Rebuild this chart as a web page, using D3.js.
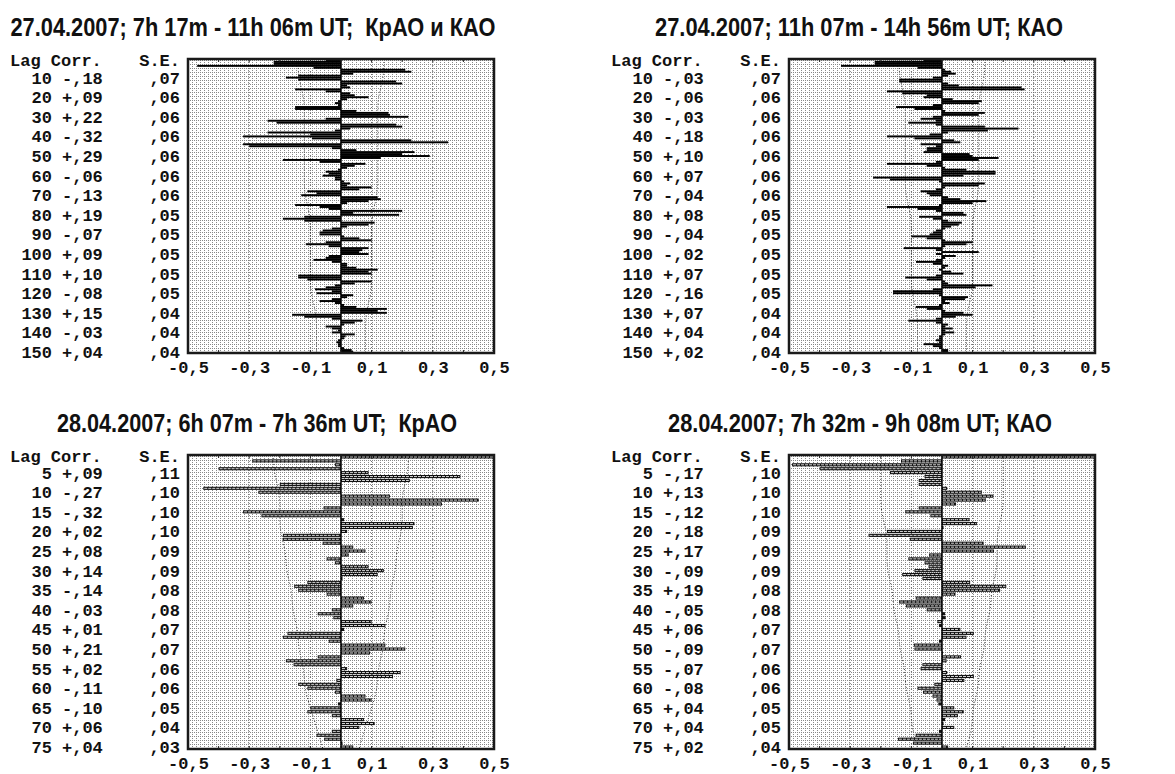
<!DOCTYPE html>
<html>
<head>
<meta charset="utf-8">
<script src="https://cdn.jsdelivr.net/npm/d3@7"></script>
<style>
  body { margin: 0; background: #fff; }
</style>
</head>
<body>
<script>
// ---- data ----
var titles = [
    "27.04.2007; 7h 17m - 11h 06m UT;  КрАО и КАО",
    "27.04.2007; 11h 07m - 14h 56m UT; КАО",
    "28.04.2007; 6h 07m - 7h 36m UT;  КрАО",
    "28.04.2007; 7h 32m - 9h 08m UT; КАО"
];

var lagsTop = [10, 20, 30, 40, 50, 60, 70, 80, 90, 100, 110, 120, 130, 140, 150];
var lagsBottom = [5, 10, 15, 20, 25, 30, 35, 40, 45, 50, 55, 60, 65, 70, 75];

var seTL = [.07, .06, .06, .06, .06, .06, .06, .05, .05, .05, .05, .05, .04, .04, .04];
var seTR = [.07, .06, .06, .06, .06, .06, .06, .05, .05, .05, .05, .05, .04, .04, .04];
var seBL = [.11, .10, .10, .10, .09, .09, .08, .08, .07, .07, .06, .06, .05, .04, .03];
var seBR = [.10, .10, .10, .09, .09, .09, .08, .08, .07, .07, .06, .06, .05, .05, .04];

// autocorrelation, lag 1..150
var corrTL = [
    -0.05, -0.22, -0.22, -0.47, -0.09, 0.21, 0.23, 0.04, -0.14, -0.18,
    -0.14, 0.18, 0.20, 0.02, 0.03, -0.15, -0.05, 0.03, 0.045, 0.09,
    0.02, -0.01, -0.02, -0.01, -0.15, -0.15, 0.05, 0.155, 0.16, 0.22,
    -0.05, -0.24, -0.21, 0.18, 0.20, 0.03, -0.02, -0.24, -0.10, -0.32,
    -0.095, 0.23, 0.35, -0.32, -0.30, -0.03, 0.05, 0.24, 0.20, 0.29,
    0.13, -0.19, -0.07, 0.08, 0.045, 0.02, -0.01, -0.05, -0.04, -0.06,
    -0.02, -0.02, 0.01, 0.03, 0.02, 0.10, 0.06, -0.11, -0.08, -0.13,
    0.12, 0.13, 0.09, 0.02, -0.15, -0.07, -0.04, 0.20, 0.04, 0.19,
    -0.12, -0.19, -0.12, 0.11, 0.09, 0.02, -0.03, -0.06, -0.07, -0.07,
    0.01, 0.06, 0.10, -0.05, -0.115, -0.04, 0.09, 0.07, 0.06, 0.09,
    -0.04, -0.05, -0.09, -0.03, 0.02, 0.02, 0.05, 0.12, 0.09, 0.10,
    -0.14, -0.14, -0.11, 0.10, 0.045, -0.02, -0.05, -0.085, -0.03, -0.08,
    0.04, 0.02, -0.03, -0.07, -0.02, 0.01, 0.05, 0.15, 0.12, 0.15,
    -0.16, -0.12, -0.03, 0.07, 0.045, 0.01, -0.05, -0.03, -0.01, -0.03,
    0.045, 0.015, 0.01, -0.01, -0.015, -0.01, -0.01, 0.01, 0.035, 0.04
];

var corrTR = [
    -0.06, -0.22, -0.22, -0.33, -0.08, 0.01, 0.03, 0.045, 0.02, -0.03,
    -0.14, -0.14, 0.02, 0.055, 0.26, 0.27, -0.18, -0.13, -0.05, -0.06,
    0.035, 0.13, 0.12, -0.03, -0.15, -0.09, 0.01, 0.14, 0.12, -0.03,
    -0.07, -0.02, -0.11, -0.02, 0.14, 0.25, 0.15, 0.02, -0.04, -0.18,
    -0.09, 0.04, 0.06, -0.07, -0.02, -0.05, -0.05, -0.06, 0.09, 0.10,
    0.185, 0.12, -0.02, -0.18, -0.05, 0.01, 0.08, 0.175, 0.175, 0.07,
    -0.225, -0.17, -0.01, 0.14, 0.12, 0.01, -0.02, -0.07, -0.05, -0.04,
    0.02, 0.06, 0.145, 0.10, -0.01, -0.18, -0.08, -0.02, 0.07, 0.08,
    -0.075, -0.03, 0.02, 0.065, 0.055, 0.03, 0.01, -0.02, -0.03, -0.04,
    -0.10, -0.05, 0.01, 0.10, 0.08, 0.01, -0.125, -0.02, 0.12, -0.02,
    0.045, 0.01, -0.02, -0.085, -0.03, 0.02, 0.01, -0.01, 0.03, 0.07,
    -0.02, -0.12, -0.05, 0.01, 0.02, 0.165, 0.11, -0.03, -0.16, -0.16,
    -0.01, 0.085, 0.075, 0.01, 0.025, -0.01, -0.085, -0.05, 0.01, 0.07,
    0.10, 0.045, -0.02, -0.11, -0.02, 0.02, 0.01, 0.035, 0.01, 0.04,
    0.01, -0.01, -0.01, -0.02, -0.01, -0.06, -0.03, -0.01, 0.02, 0.02
];

// autocorrelation, lag 1..75
var corrBL = [
    0.50, -0.29, -0.02, -0.40, 0.09, 0.39, 0.225, -0.20, -0.45, -0.27,
    0.16, 0.45, 0.33, -0.057, -0.32, -0.26, 0.01, 0.24, 0.235, 0.02,
    -0.19, -0.19, -0.06, 0.04, 0.08, 0.025, -0.047, -0.02, 0.09, 0.14,
    0.12, 0.005, -0.11, -0.153, -0.14, -0.047, 0.075, 0.10, 0.04, -0.03,
    -0.076, -0.025, 0.10, 0.145, 0.01, -0.175, -0.19, -0.04, 0.145, 0.21,
    0.095, -0.076, -0.18, -0.155, 0.02, 0.195, 0.17, -0.015, -0.14, -0.11,
    -0.02, 0.08, 0.10, -0.01, -0.10, -0.11, -0.03, 0.075, 0.11, 0.06,
    -0.03, -0.08, -0.055, 0.005, 0.04
];

var corrBR = [
    0.50, -0.134, -0.49, -0.40, -0.17, -0.057, -0.076, -0.076, 0.017, 0.13,
    0.168, 0.143, 0.046, -0.076, -0.12, -0.038, 0.09, 0.114, 0.005, -0.18,
    -0.24, -0.105, 0.136, 0.274, 0.17, -0.042, -0.11, -0.057, -0.044, -0.09,
    -0.13, -0.064, 0.092, 0.21, 0.19, 0.044, -0.086, -0.14, -0.118, -0.05,
    0.01, 0.012, -0.015, -0.01, 0.06, 0.104, 0.08, -0.01, -0.092, -0.09,
    0.003, 0.062, 0.015, -0.064, -0.07, 0.017, 0.104, 0.073, -0.025, -0.08,
    -0.062, -0.031, -0.018, -0.012, 0.04, 0.071, 0.052, 0.01, 0.005, 0.04,
    -0.01, -0.086, -0.144, -0.095, 0.02
];

var tickValues = [-0.5, -0.3, -0.1, 0.1, 0.3, 0.5];
var tickLabels = ["-0,5", "-0,3", "-0,1", "0,1", "0,3", "0,5"];

// ---- layout ----
var W = 1175, H = 774;
var plot = { left: 188, w: 306, top: 59, h: 294 };
var offsets = [[0, 0], [601, 0], [0, 396], [601, 396]];
var titleX = [253, 258, 257, 259];
var titleLen = [485, 408, 400, 384];
var monoFont = "'Liberation Mono', 'Courier New', monospace";

var panels = [
    { title: titles[0], corr: corrTL, lags: lagsTop, se: seTL, fine: true },
    { title: titles[1], corr: corrTR, lags: lagsTop, se: seTR, fine: true },
    { title: titles[2], corr: corrBL, lags: lagsBottom, se: seBL, fine: false },
    { title: titles[3], corr: corrBR, lags: lagsBottom, se: seBR, fine: false }
];

function fmtCorr(v) {
    var n = Math.round(Math.abs(v) * 100);
    return (v < 0 ? "-," : "+,") + (n < 10 ? "0" + n : n);
}
function fmtSe(v) {
    var n = Math.round(v * 100);
    return "," + (n < 10 ? "0" + n : n);
}

var svg = d3.select("body")
    .append("svg")
    .attr("width", W)
    .attr("height", H);

var defs = svg.append("defs");
var pat = defs.append("pattern")
    .attr("id", "bgdots")
    .attr("patternUnits", "userSpaceOnUse")
    .attr("width", 4)
    .attr("height", 4);
pat.append("rect").attr("width", 4).attr("height", 4).attr("fill", "#fff");
[[0, 0], [2, 0], [0, 2]].forEach(function(p) {
    pat.append("rect").attr("x", p[0]).attr("y", p[1])
        .attr("width", 1).attr("height", 1).attr("fill", "#888");
});

panels.forEach(function(p, k) {
    var g = svg.append("g")
        .attr("transform", "translate(" + offsets[k][0] + "," + offsets[k][1] + ")");

    var x = d3.scaleLinear()
        .domain([-0.5, 0.5])
        .range([plot.left, plot.left + plot.w])
        .clamp(true);

    var lagIdx = p.corr.map(function(d, i) { return i + 1; });
    var y = d3.scaleBand()
        .domain(lagIdx)
        .range([plot.top, plot.top + plot.h]);
    var bw = y.bandwidth();

    // titel
    g.append("text")
        .attr("x", titleX[k])
        .attr("y", plot.top - 32)
        .attr("dy", "0.35em")
        .attr("text-anchor", "middle")
        .attr("textLength", titleLen[k])
        .attr("lengthAdjust", "spacingAndGlyphs")
        .style("font-family", "'Liberation Sans Narrow', 'Arial Narrow', 'Liberation Sans', Arial, sans-serif")
        .style("font-weight", "bold")
        .style("font-size", "26px")
        .style("white-space", "pre")
        .style("fill", "#111")
        .text(p.title);

    // achtergrond
    g.append("rect")
        .attr("x", plot.left)
        .attr("y", plot.top)
        .attr("width", plot.w)
        .attr("height", plot.h)
        .attr("fill", "url(#bgdots)");

    // rasterlijnen
    g.selectAll(".grid")
        .data(tickValues.slice(1, 5))
        .enter()
        .append("line")
        .attr("x1", function(d) { return x(d); })
        .attr("x2", function(d) { return x(d); })
        .attr("y1", plot.top)
        .attr("y2", plot.top + plot.h)
        .attr("stroke", "#666")
        .attr("stroke-width", 1)
        .attr("stroke-dasharray", "1,2");

    // betrouwbaarheidsband (2 x S.E.)
    var bandPts = [{ lag: 0.5, se: p.se[0] }].concat(p.lags.map(function(l, i) {
        return { lag: l, se: p.se[i] };
    }));
    bandPts.push({ lag: p.corr.length + 0.5, se: p.se[p.se.length - 1] });
    var lagY = d3.scaleLinear()
        .domain([0.5, p.corr.length + 0.5])
        .range([plot.top, plot.top + plot.h]);
    [-2, 2].forEach(function(s) {
        var line = d3.line()
            .curve(d3.curveBasis)
            .x(function(d) { return x(s * d.se); })
            .y(function(d) { return lagY(d.lag); });
        g.append("path")
            .datum(bandPts)
            .attr("d", line)
            .attr("fill", "none")
            .attr("stroke", "#333")
            .attr("stroke-width", 1)
            .attr("stroke-dasharray", "1,2");
    });

    // staven
    var bars = g.selectAll(".bar")
        .data(p.corr)
        .enter();
    if (p.fine) {
        bars.append("rect")
            .attr("x", function(d) { return Math.min(x(0), x(d)); })
            .attr("y", function(d, i) { return y(i + 1); })
            .attr("width", function(d) { return Math.abs(x(d) - x(0)); })
            .attr("height", bw)
            .attr("fill", "#000");
    } else {
        bars.append("rect")
            .attr("x", function(d) { return Math.min(x(0), x(d)); })
            .attr("y", function(d, i) { return y(i + 1) + 0.4; })
            .attr("width", function(d) { return Math.abs(x(d) - x(0)); })
            .attr("height", bw - 0.8)
            .attr("fill", "#111");
        g.selectAll(".barin")
            .data(p.corr)
            .enter()
            .append("line")
            .attr("x1", function(d) { return Math.min(x(0), x(d)) + 1; })
            .attr("x2", function(d) { return Math.max(x(0), x(d)) - 1; })
            .attr("y1", function(d, i) { return y(i + 1) + bw / 2; })
            .attr("y2", function(d, i) { return y(i + 1) + bw / 2; })
            .attr("stroke", function(d) { return Math.abs(x(d) - x(0)) > 4 ? "#d8d8d8" : "none"; })
            .attr("stroke-width", 1)
            .attr("stroke-dasharray", "3,1");
    }

    // nullijn
    g.append("line")
        .attr("x1", x(0)).attr("x2", x(0))
        .attr("y1", plot.top).attr("y2", plot.top + plot.h)
        .attr("stroke", "#000")
        .attr("stroke-width", 1.5);

    // kader + streepjes
    g.append("rect")
        .attr("x", plot.left)
        .attr("y", plot.top)
        .attr("width", plot.w)
        .attr("height", plot.h)
        .attr("fill", "none")
        .attr("stroke", "#1a1a1a")
        .attr("stroke-width", 2.5);

    var minor = [-0.4, -0.3, -0.2, -0.1, 0, 0.1, 0.2, 0.3, 0.4];
    g.selectAll(".tickT")
        .data(minor)
        .enter()
        .append("line")
        .attr("x1", function(d) { return x(d); })
        .attr("x2", function(d) { return x(d); })
        .attr("y1", plot.top)
        .attr("y2", plot.top + 3)
        .attr("stroke", "#222");
    g.selectAll(".tickB")
        .data(minor)
        .enter()
        .append("line")
        .attr("x1", function(d) { return x(d); })
        .attr("x2", function(d) { return x(d); })
        .attr("y1", plot.top + plot.h - 3)
        .attr("y2", plot.top + plot.h)
        .attr("stroke", "#222");

    // x-as labels
    var axis = g.append("g")
        .attr("transform", "translate(0," + (plot.top + plot.h) + ")")
        .call(d3.axisBottom(x)
            .tickValues(tickValues)
            .tickFormat(function(d, i) { return tickLabels[i]; })
            .tickSize(0));
    axis.select(".domain").remove();
    axis.selectAll("text")
        .attr("y", 14)
        .attr("dy", "0.35em")
        .style("font-family", monoFont)
        .style("font-weight", "bold")
        .style("font-size", "17px")
        .style("fill", "#111");

    // tabel links
    var txt = function(sel) {
        return sel.style("font-family", monoFont)
            .style("font-weight", "bold")
            .style("font-size", "17px")
            .style("fill", "#111")
            .attr("dy", "0.35em");
    };
    txt(g.append("text")
        .attr("x", 10)
        .attr("y", plot.top + 1)
        .text("Lag Corr."));
    txt(g.append("text")
        .attr("x", 180)
        .attr("y", plot.top + 1)
        .attr("text-anchor", "end")
        .text("S.E."));

    p.lags.forEach(function(l, i) {
        var yy = y(l) + bw / 2;
        txt(g.append("text").attr("x", 52).attr("y", yy)
            .attr("text-anchor", "end").text(l));
        txt(g.append("text").attr("x", 62).attr("y", yy)
            .text(fmtCorr(p.corr[l - 1])));
        txt(g.append("text").attr("x", 180).attr("y", yy)
            .attr("text-anchor", "end").text(fmtSe(p.se[i])));
    });
});
</script>
</body>
</html>
